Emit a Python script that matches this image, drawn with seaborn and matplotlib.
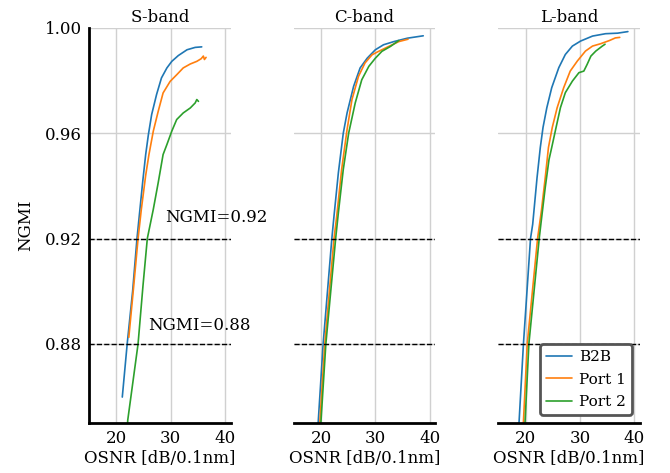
import numpy as np
import pandas as pd
import matplotlib
matplotlib.use("Agg")
import matplotlib.pyplot as plt
import seaborn as sns

# OSNR [dB/0.1nm] vs NGMI, per band and configuration
bands = ["S-band", "C-band", "L-band"]
series = ["B2B", "Port 1", "Port 2"]

s_b2b_osnr = [21.1, 22.0, 23.0, 23.8, 24.9, 25.4, 25.9, 26.5, 27.4, 28.3, 29.3, 30.2, 31.4, 33.0, 34.5, 35.7]
s_b2b_ngmi = [0.8598, 0.880, 0.900, 0.920, 0.9425, 0.9519, 0.9595, 0.9671, 0.9747, 0.9810, 0.9848, 0.9873, 0.9895, 0.9917, 0.9926, 0.9928]
s_p1_osnr = [22.3, 23.2, 24.0, 24.6, 25.4, 26.0, 26.8, 27.7, 28.6, 29.9, 31.1, 32.3, 33.6, 34.8, 35.6, 36.0, 36.2, 36.5]
s_p1_ngmi = [0.8825, 0.902, 0.920, 0.9311, 0.9440, 0.9519, 0.9608, 0.9683, 0.9753, 0.9797, 0.9822, 0.9848, 0.9863, 0.9873, 0.9883, 0.9893, 0.9880, 0.9888]
s_p2_osnr = [22.0, 22.1, 24.0, 24.9, 25.7, 26.8, 27.7, 28.6, 29.3, 30.2, 31.1, 32.3, 33.6, 34.5, 34.8, 35.1]
s_p2_ngmi = [0.847, 0.851, 0.880, 0.902, 0.920, 0.9311, 0.9412, 0.9519, 0.9557, 0.9608, 0.9652, 0.9677, 0.9696, 0.9715, 0.9728, 0.9721]

c_b2b_osnr = [19.4, 19.5, 20.4, 22.0, 22.4, 23.2, 24.1, 24.8, 26.0, 27.2, 28.5, 30.0, 31.5, 33.4, 35.9, 38.8]
c_b2b_ngmi = [0.847, 0.8505, 0.880, 0.920, 0.9286, 0.945, 0.960, 0.9677, 0.9778, 0.9848, 0.9885, 0.9917, 0.9936, 0.9948, 0.9961, 0.9970]
c_p1_osnr = [19.7, 19.8, 20.7, 22.4, 22.9, 23.8, 24.8, 25.7, 26.9, 28.1, 29.4, 30.6, 32.5, 34.3, 36.0]
c_p1_ngmi = [0.847, 0.8505, 0.880, 0.920, 0.9286, 0.9462, 0.9614, 0.9728, 0.9816, 0.9867, 0.9898, 0.9911, 0.9930, 0.9948, 0.9957]
c_p2_osnr = [19.9, 20.0, 20.9, 22.7, 23.2, 24.1, 25.1, 26.3, 27.5, 28.8, 30.0, 31.2, 32.8, 34.3]
c_p2_ngmi = [0.847, 0.8505, 0.880, 0.920, 0.9298, 0.9462, 0.9601, 0.9715, 0.9803, 0.9854, 0.9885, 0.9911, 0.9930, 0.9952]

l_b2b_osnr = [18.7, 18.8, 19.6, 20.9, 21.3, 22.1, 22.7, 23.2, 23.9, 24.8, 26.1, 27.3, 28.6, 30.1, 32.3, 34.7, 36.9, 38.8]
l_b2b_ngmi = [0.847, 0.8505, 0.880, 0.920, 0.9254, 0.9431, 0.9546, 0.9622, 0.9697, 0.9773, 0.9849, 0.9899, 0.9931, 0.9950, 0.9969, 0.9978, 0.9980, 0.9986]
l_p1_osnr = [19.5, 19.6, 20.3, 22.2, 22.9, 23.6, 24.2, 24.9, 25.8, 27.0, 28.2, 29.5, 31.0, 32.3, 33.8, 35.4, 36.5, 37.3]
l_p1_ngmi = [0.847, 0.8505, 0.880, 0.920, 0.9305, 0.9430, 0.9546, 0.9622, 0.9697, 0.9773, 0.9836, 0.9874, 0.9912, 0.9931, 0.9940, 0.9952, 0.9962, 0.9964]
l_p2_osnr = [19.8, 19.9, 20.6, 22.5, 22.8, 23.6, 24.3, 24.8, 25.6, 26.4, 27.3, 28.6, 29.8, 30.7, 31.3, 32.0, 32.9, 34.1, 34.6]
l_p2_ngmi = [0.847, 0.8505, 0.880, 0.920, 0.9254, 0.9393, 0.9500, 0.9546, 0.9622, 0.9697, 0.9754, 0.9798, 0.9830, 0.9836, 0.9861, 0.9893, 0.9912, 0.9931, 0.9938]

curves = {
    "S-band": [(s_b2b_osnr, s_b2b_ngmi), (s_p1_osnr, s_p1_ngmi), (s_p2_osnr, s_p2_ngmi)],
    "C-band": [(c_b2b_osnr, c_b2b_ngmi), (c_p1_osnr, c_p1_ngmi), (c_p2_osnr, c_p2_ngmi)],
    "L-band": [(l_b2b_osnr, l_b2b_ngmi), (l_p1_osnr, l_p1_ngmi), (l_p2_osnr, l_p2_ngmi)],
}

thresholds = [0.92, 0.88]
threshold_labels = ["NGMI=0.92", "NGMI=0.88"]
y_ticks = [0.88, 0.92, 0.96, 1.00]
x_ticks = [20, 30, 40]

rows = []
for band in bands:
    for name, (xs, ys) in zip(series, curves[band]):
        for x, y in zip(xs, ys):
            rows.append({"band": band, "config": name, "osnr": x, "ngmi": y})
df = pd.DataFrame(rows)

sns.set_theme(style="whitegrid")
plt.rcParams["font.family"] = ["DejaVu Serif"]
plt.rcParams["font.size"] = 12
for key in ["text.color", "axes.labelcolor", "xtick.color", "ytick.color"]:
    plt.rcParams[key] = "black"

palette = dict(zip(series, sns.color_palette("tab10", 3)))

fig, axes = plt.subplots(1, 3, figsize=(6.7, 4.73), dpi=100, sharey=True)
fig.subplots_adjust(left=0.133, right=0.955, top=0.941, bottom=0.106, wspace=0.447)

for i, (ax, band) in enumerate(zip(axes, bands)):
    sub = df[df["band"] == band]
    sns.lineplot(data=sub, x="osnr", y="ngmi", hue="config", palette=palette,
                 estimator=None, sort=False, linewidth=1.2, ax=ax,
                 legend=(i == 2))
    for t in thresholds:
        ax.axhline(t, color="black", linestyle="--", linewidth=1.0, zorder=3)
    ax.set_xlim(15, 41)
    ax.set_ylim(0.85, 1.00)
    ax.set_xticks(x_ticks)
    ax.set_yticks(y_ticks)
    ax.set_yticklabels([f"{v:.2f}" for v in y_ticks])
    ax.set_title(band, fontsize=12, pad=4)
    ax.set_xlabel("OSNR [dB/0.1nm]", fontsize=12, labelpad=2)
    ax.grid(True, color="#d0d0d0", linewidth=1.0)
    ax.set_facecolor("white")
    for side in ["top", "right"]:
        ax.spines[side].set_visible(False)
    ax.spines["bottom"].set_color("black")
    ax.spines["bottom"].set_linewidth(2.0)
    ax.spines["left"].set_color("black")
    ax.spines["left"].set_linewidth(2.0)
    ax.tick_params(axis="both", direction="in", length=7, width=1.5,
                   color="black", labelsize=12, pad=5)
    if i == 0:
        ax.set_ylabel("NGMI", fontsize=12, labelpad=8)
    else:
        ax.spines["left"].set_visible(False)
        ax.tick_params(axis="y", left=False, labelleft=False)
        ax.set_ylabel("")

axes[0].text(28.9, 0.928, threshold_labels[0], fontsize=12, va="center",
             ha="left", clip_on=False)
axes[0].text(25.8, 0.887, threshold_labels[1], fontsize=12, va="center",
             ha="left", clip_on=False)

leg = axes[2].legend(loc="lower right", fontsize=11, frameon=True,
                     fancybox=True, handlelength=1.7, handletextpad=0.5,
                     labelspacing=0.55, borderaxespad=0.5)
leg.get_frame().set_edgecolor("#555555")
leg.get_frame().set_linewidth(2.0)
leg.get_frame().set_alpha(1.0)
leg.set_title(None)

fig.savefig("out.png", dpi=100)
